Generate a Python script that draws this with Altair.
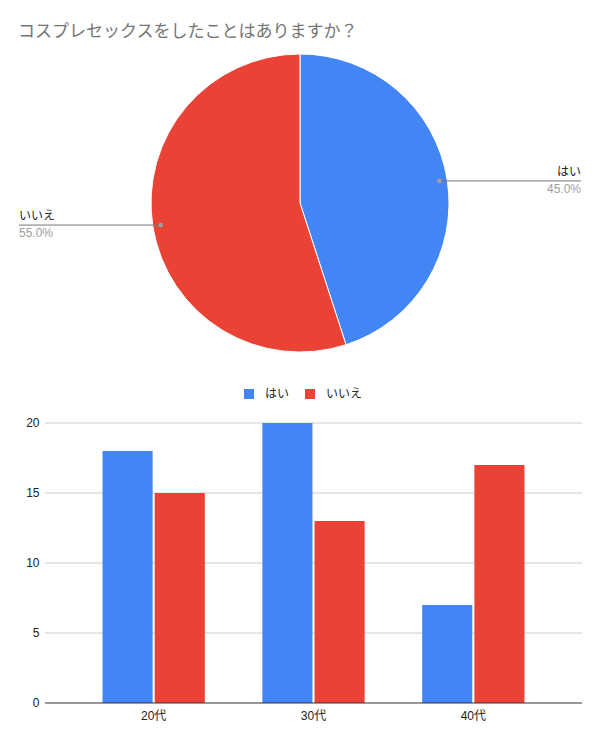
import math
import altair as alt
import pandas as pd

# ---------------- data ----------------
title_text = "コスプレセックスをしたことはありますか？"
pie_labels = ["はい", "いいえ"]
pie_values = [45, 55]
ages = ["20代", "30代", "40代"]
yes_counts = [18, 20, 7]
no_counts = [15, 13, 17]
y_ticks = [0, 5, 10, 15, 20]
colors = ["#4285F4", "#EA4335"]

# ---------------- layout ----------------
W, H = 584, 726
CX, CY, R = 292, 195, 149
DOT_R = 141
LABEL_RIGHT, LABEL_LEFT = 573, 11
PLOT_L, PLOT_R = 37, 574
PLOT_TOP, PLOT_BOT = 415, 695
FONT = "Liberation Sans, Arial, 'Noto Sans CJK JP', sans-serif"

# ---------------- pie frame ----------------
pie_df = pd.DataFrame({"answer": pie_labels, "value": pie_values, "idx": list(range(len(pie_labels)))})
total = float(sum(pie_values))
cum = pie_df["value"].cumsum()
start = cum - pie_df["value"]
ang = (start + pie_df["value"] / 2) / total * 2 * math.pi
pie_df["dx"] = CX + DOT_R * ang.apply(math.sin)
pie_df["dy"] = CY - DOT_R * ang.apply(math.cos)
pie_df["side"] = ["right" if math.sin(a) > 0 else "left" for a in ang]
pie_df["lx"] = [LABEL_RIGHT if s == "right" else LABEL_LEFT for s in pie_df["side"]]
pie_df["pct"] = [f"{v / total * 100:.1f}%" for v in pie_values]

# ---------------- bar frame ----------------
bar_df = pd.DataFrame({
    "age": ages * 2,
    "answer": [pie_labels[0]] * len(ages) + [pie_labels[1]] * len(ages),
    "count": yes_counts + no_counts,
})
tick_df = pd.DataFrame({"v": y_ticks, "label": [str(t) for t in y_ticks]})
age_df = pd.DataFrame({"age": ages})

color_scale = alt.Scale(domain=pie_labels, range=colors)
legend = alt.Legend(
    orient="none", legendX=235, legendY=380, direction="horizontal", title=None,
    symbolType="square", symbolSize=100, symbolStrokeWidth=0, labelFontSize=12,
    labelColor="#222222", labelFont=FONT, columnPadding=14, labelOffset=10, padding=0,
)
color_enc = alt.Color("answer:N", scale=color_scale, sort=pie_labels, legend=legend)

xscale = alt.Scale(type="band", domain=ages, range=[PLOT_L, PLOT_R], paddingInner=0.36, paddingOuter=0.36)
yscale = alt.Scale(domain=[0, 20], range=[PLOT_BOT, PLOT_TOP], nice=False, zero=True)

title = alt.Chart(pd.DataFrame({"t": [title_text]})).mark_text(
    align="left", baseline="middle", fontSize=17, color="#757575", font=FONT
).encode(x=alt.value(10), y=alt.value(24), text="t:N")

arc = alt.Chart(pie_df).mark_arc(outerRadius=R, stroke="white", strokeWidth=1).encode(
    theta=alt.Theta("value:Q", stack=True),
    color=color_enc,
    order=alt.Order("idx:Q"),
    x=alt.value(CX), y=alt.value(CY),
)

leader = alt.Chart(pie_df).mark_rule(color="#757575", strokeWidth=1).encode(
    x=alt.X("dx:Q", scale=None, axis=None), x2="lx:Q",
    y=alt.Y("dy:Q", scale=None, axis=None),
)
dots = alt.Chart(pie_df).mark_circle(size=22, color="#9e9e9e", opacity=1).encode(
    x=alt.X("dx:Q", scale=None, axis=None), y=alt.Y("dy:Q", scale=None, axis=None)
)

def side_text(side, align, field, dy, color):
    return alt.Chart(pie_df).transform_filter(f"datum.side == '{side}'").mark_text(
        align=align, baseline="middle", dy=dy, fontSize=12, color=color, font=FONT
    ).encode(
        x=alt.X("lx:Q", scale=None, axis=None),
        y=alt.Y("dy:Q", scale=None, axis=None),
        text=f"{field}:N",
    )

labels = [
    side_text("right", "right", "answer", -9, "#222222"),
    side_text("right", "right", "pct", 8, "#9e9e9e"),
    side_text("left", "left", "answer", -9, "#222222"),
    side_text("left", "left", "pct", 8, "#9e9e9e"),
]

grid = alt.Chart(tick_df).transform_filter("datum.v > 0").mark_rule(color="#cccccc", strokeWidth=1).encode(
    x=alt.value(PLOT_L), x2=alt.value(PLOT_R), y=alt.Y("v:Q", scale=yscale, axis=None)
)
base = alt.Chart(tick_df).transform_filter("datum.v == 0").mark_rule(color="#333333", strokeWidth=1).encode(
    x=alt.value(PLOT_L), x2=alt.value(PLOT_R), y=alt.Y("v:Q", scale=yscale, axis=None)
)
ylab = alt.Chart(tick_df).mark_text(align="right", baseline="middle", fontSize=12, color="#222222", font=FONT).encode(
    x=alt.value(31.5), y=alt.Y("v:Q", scale=yscale, axis=None), text="label:N"
)

bars = alt.Chart(bar_df).mark_bar().encode(
    x=alt.X("age:N", sort=ages, scale=xscale, axis=None),
    xOffset=alt.XOffset("answer:N", sort=pie_labels, scale=alt.Scale(paddingInner=0.04)),
    y=alt.Y("count:Q", scale=yscale, axis=None),
    color=color_enc,
)

xlab = alt.Chart(age_df).mark_text(baseline="middle", fontSize=12, color="#222222", font=FONT).encode(
    x=alt.X("age:N", sort=ages, scale=xscale, axis=None), y=alt.value(708), text="age:N"
)

chart = alt.layer(
    grid, bars, base, ylab, xlab, arc, leader, dots, *labels, title
).resolve_scale(x="independent", y="independent").properties(
    width=W, height=H, autosize=alt.AutoSizeParams(type="none"), padding=0
).configure_view(strokeWidth=0)

chart.save("out.html", embed_options={"renderer": "svg", "actions": False})
